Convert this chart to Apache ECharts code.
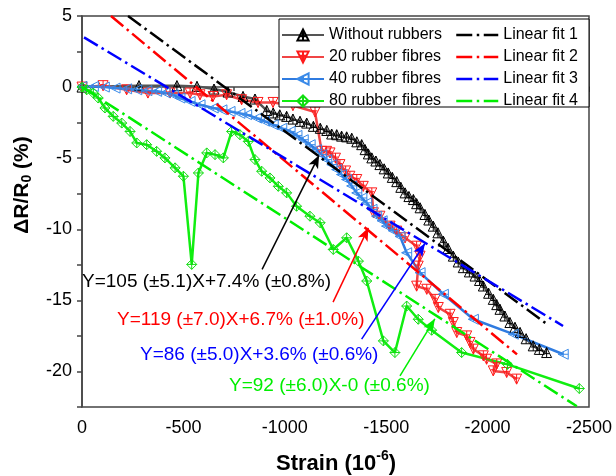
<!DOCTYPE html>
<html>
<head>
<meta charset="utf-8">
<script src="https://cdn.jsdelivr.net/npm/echarts/dist/echarts.min.js"></script>
<style>
  html, body { margin: 0; padding: 0; background: #fff; }
  #chart { width: 616px; height: 476px; }
</style>
</head>
<body>
<div id="chart"></div>
<script>
// strain in 10^-6, dR/R0 in %
var strain0 = [0, -281, -468, -567, -651, -720, -794, -853, -911, -943, -975, -1009, -1040, -1075, -1108, -1141, -1175, -1207, -1231, -1256, -1280, -1305, -1330, -1355, -1379, -1396, -1412, -1429, -1449, -1469, -1490, -1510, -1530, -1552, -1572, -1593, -1612, -1634, -1650, -1667, -1691, -1710, -1732, -1755, -1782, -1805, -1831, -1855, -1880, -1910, -1938, -1960, -1979, -2005, -2028, -2045, -2061, -2085, -2110, -2135, -2160, -2190, -2225, -2255, -2291];
var dr0 = [0, 0.1, 0.1, 0.05, -0.14, -0.35, -0.66, -0.84, -1.65, -1.82, -1.95, -2.06, -2.25, -2.41, -2.53, -2.76, -2.9, -3.05, -3.3, -3.35, -3.45, -3.5, -3.6, -3.85, -4.05, -4.4, -4.7, -4.98, -5.2, -5.45, -5.75, -6.04, -6.35, -6.65, -7.05, -7.44, -7.7, -7.91, -8.2, -8.49, -8.96, -9.35, -9.78, -10.25, -10.84, -11.35, -11.89, -12.3, -12.7, -13.0, -13.29, -13.6, -13.99, -14.5, -14.93, -15.3, -15.63, -16.1, -16.56, -16.9, -17.26, -17.7, -18.2, -18.45, -18.67];

var strain20 = [0, -104, -220, -325, -434, -533, -582, -646, -713, -787, -868, -942, -1040, -1149, -1182, -1206, -1223, -1250, -1272, -1300, -1321, -1355, -1387, -1429, -1437, -1469, -1519, -1552, -1593, -1650, -1667, -1658, -1650, -1700, -1741, -1757, -1815, -1831, -1848, -1897, -1913, -1930, -1979, -1995, -2045, -2028, -2094, -2143];
var dr20 = [0, 0.1, -0.19, -0.42, -0.42, -0.42, -0.54, -0.66, -0.54, -0.89, -1.08, -1.08, -1.3, -1.75, -4.52, -4.52, -4.63, -5.0, -5.45, -5.9, -6.27, -6.5, -6.98, -7.44, -8.84, -9.08, -9.78, -10.13, -10.6, -11.19, -11.89, -12.59, -14.0, -14.22, -14.93, -15.5, -15.98, -16.56, -17.26, -17.5, -17.96, -18.43, -18.9, -19.14, -19.47, -19.96, -20.07, -20.54];

var strain40 = [0, -56, -110, -163, -220, -270, -320, -368, -410, -450, -483, -533, -582, -647, -690, -730, -779, -812, -861, -900, -943, -985, -1026, -1060, -1091, -1125, -1157, -1182, -1207, -1232, -1256, -1280, -1305, -1330, -1355, -1380, -1404, -1430, -1453, -1480, -1502, -1535, -1568, -1601, -1667, -1782, -1930, -2127, -2373];
var dr40 = [0.05, 0.04, 0, -0.07, -0.12, -0.19, -0.25, -0.3, -0.4, -0.54, -0.77, -1.01, -1.24, -1.47, -1.6, -1.71, -1.85, -1.94, -2.18, -2.4, -2.65, -2.9, -3.12, -3.4, -3.7, -4.05, -4.4, -4.75, -5.1, -5.45, -5.8, -6.15, -6.5, -6.95, -7.44, -7.8, -8.14, -8.6, -9.08, -9.4, -9.78, -10.1, -10.5, -11.65, -13.05, -14.57, -16.33, -17.38, -18.79];

var strain80 = [0, -23, -56, -80, -113, -154, -196, -237, -270, -319, -368, -409, -459, -500, -541, -574, -615, -656, -697, -738, -779, -820, -853, -886, -927, -968, -1009, -1058, -1124, -1174, -1239, -1305, -1363, -1404, -1486, -1543, -1601, -1658, -1724, -1872, -2098, -2452];
var dr80 = [0, -0.19, -0.42, -0.77, -1.47, -2.06, -2.53, -3.12, -3.93, -4.05, -4.52, -4.98, -5.68, -6.27, -12.47, -6.04, -4.63, -4.75, -4.98, -3.12, -3.35, -3.82, -5.1, -5.92, -6.39, -6.98, -7.44, -8.38, -9.08, -9.54, -11.42, -10.6, -12.24, -13.64, -17.85, -18.67, -15.4, -16.33, -17.1, -18.67, -19.5, -21.2];

// linear fit end points [start, end]
var fitStrain1 = [-227, -2293], fitDr1 = [5, -16.67];
var fitStrain2 = [-143, -2145], fitDr2 = [5, -18.8];
var fitStrain3 = [-10, -2372], fitDr3 = [3.5, -16.8];
var fitStrain4 = [0, -2440], fitDr4 = [0, -22.45];

// annotation arrows: [from, to] in data coords
var arrow1 = [[-888, -12.82], [-1169, -4.8]];
var arrow2 = [[-1238, -15.12], [-1412, -9.9]];
var arrow3 = [[-1379, -17.73], [-1691, -11.0]];
var arrow4 = [[-1568, -20.31], [-1740, -16.3]];

var xTicks = [0, -500, -1000, -1500, -2000, -2500];
var yTicks = [5, 0, -5, -10, -15, -20];

var FONT = 'Liberation Sans, Arial, sans-serif';
var DASH_DOT = [16, 4.5, 2.5, 4.5];

function zip(xs, ys) {
  return xs.map(function (x, i) { return [x, ys[i]]; });
}

var triUp = 'path://M0,-10L10,8L-10,8ZM0,-10L0,8M-5,1L5,1';
var triDown = 'path://M-10,-8L10,-8L0,10ZM0,-8L0,10M-5,-1L5,-1';
var triLeft = 'path://M-10,0L8,-10L8,10ZM-10,0L8,0M-1,-5L-1,5';
var diamond = 'path://M0,-10L10,0L0,10L-10,0ZM0,-10L0,10M-10,0L10,0';

function dataSeries(name, xs, ys, lineColor, markColor, symbol) {
  return {
    name: name,
    type: 'line',
    data: zip(xs, ys),
    symbol: symbol,
    symbolSize: 10,
    showAllSymbol: true,
    lineStyle: { color: lineColor, width: 2.5 },
    itemStyle: { color: 'rgba(255,255,255,0)', borderColor: markColor, borderWidth: 1 },
    z: 2
  };
}

function fitSeries(name, xs, ys, color, arrow) {
  return {
    name: name,
    type: 'line',
    data: zip(xs, ys),
    symbol: 'none',
    lineStyle: { color: color, width: 2.5, type: DASH_DOT },
    itemStyle: { color: color },
    z: 3,
    markLine: {
      silent: true,
      symbol: ['none', 'arrow'],
      symbolSize: [8, 13],
      label: { show: false },
      lineStyle: { color: color, width: 1.5, type: 'solid' },
      data: [[{ coord: arrow[0] }, { coord: arrow[1] }]]
    }
  };
}

function fitLegendItem(name) {
  return { name: name, itemStyle: { opacity: 0 }, lineStyle: { type: DASH_DOT, width: 2.5 } };
}

var chart = echarts.init(document.getElementById('chart'));

chart.setOption({
  animation: false,
  grid: {
    left: 82, right: 27, top: 16, bottom: 69,
    show: true, borderColor: '#444', borderWidth: 1.5
  },
  xAxis: {
    type: 'value',
    min: -2500, max: 0, interval: 500,
    inverse: true,
    axisLine: { show: true, lineStyle: { color: '#444', width: 1.5 } },
    axisTick: { show: true, length: 5, lineStyle: { color: '#444', width: 1.5 } },
    minorTick: { show: true, splitNumber: 2, length: 4, lineStyle: { color: '#444', width: 1.5 } },
    splitLine: { show: false },
    axisLabel: {
      color: '#000', fontSize: 18, fontFamily: FONT, margin: 12,
      formatter: function (v) { return xTicks.indexOf(v) >= 0 ? String(v) : ''; }
    }
  },
  yAxis: {
    type: 'value',
    min: -22.5, max: 5, interval: 2.5,
    axisLine: { show: true, lineStyle: { color: '#444', width: 1.5 } },
    axisTick: { show: true, length: 5, lineStyle: { color: '#444', width: 1.5 } },
    splitLine: { show: false },
    axisLabel: {
      color: '#000', fontSize: 18, fontFamily: FONT, margin: 10,
      formatter: function (v) { return yTicks.indexOf(v) >= 0 ? String(v) : ''; }
    }
  },
  legend: [
    {
      data: ['Without rubbers', '20 rubber fibres', '40 rubber fibres', '80 rubber fibres'],
      orient: 'vertical', left: 276, top: 22,
      itemWidth: 42, itemHeight: 14, itemGap: 6,
      textStyle: { color: '#000', fontSize: 16, fontFamily: FONT },
      selectedMode: false
    },
    {
      data: ['Linear fit 1', 'Linear fit 2', 'Linear fit 3', 'Linear fit 4'].map(fitLegendItem),
      orient: 'vertical', left: 450, top: 22,
      itemWidth: 42, itemHeight: 14, itemGap: 6,
      textStyle: { color: '#000', fontSize: 16, fontFamily: FONT },
      selectedMode: false
    }
  ],
  graphic: [
    {
      type: 'rect', z: 3,
      shape: { x: 279, y: 19, width: 310, height: 88 },
      style: { fill: '#fff', stroke: '#000', lineWidth: 1 }
    },
    {
      type: 'text', z: 5, x: 82, y: 282,
      style: { text: 'Y=105 (±5.1)X+7.4% (±0.8%)', fill: '#000', font: '19px ' + FONT, verticalAlign: 'middle' }
    },
    {
      type: 'text', z: 5, x: 117, y: 320,
      style: { text: 'Y=119 (±7.0)X+6.7% (±1.0%)', fill: '#ff0000', font: '19px ' + FONT, verticalAlign: 'middle' }
    },
    {
      type: 'text', z: 5, x: 140, y: 355,
      style: { text: 'Y=86 (±5.0)X+3.6% (±0.6%)', fill: '#0000ff', font: '19px ' + FONT, verticalAlign: 'middle' }
    },
    {
      type: 'text', z: 5, x: 229, y: 386,
      style: { text: 'Y=92 (±6.0)X-0 (±0.6%)', fill: '#00ee00', font: '19px ' + FONT, verticalAlign: 'middle' }
    },
    {
      type: 'text', z: 5, x: 336, y: 462,
      style: {
        text: '{a|Strain (10}{p|-6}{a|)}',
        align: 'center', verticalAlign: 'middle',
        rich: {
          a: { fontSize: 22, fontWeight: 'bold', fontFamily: FONT, fill: '#000', lineHeight: 26, verticalAlign: 'bottom' },
          p: { fontSize: 14, fontWeight: 'bold', fontFamily: FONT, fill: '#000', lineHeight: 26, verticalAlign: 'top', padding: [0, 0, 8, 0] }
        }
      }
    },
    {
      type: 'text', z: 5, x: 22, y: 185, rotation: Math.PI / 2,
      style: {
        text: '{a|ΔR/R}{s|0}{a| (%)}',
        align: 'center', verticalAlign: 'middle',
        rich: {
          a: { fontSize: 21, fontWeight: 'bold', fontFamily: FONT, fill: '#000', lineHeight: 26 },
          s: { fontSize: 14, fontWeight: 'bold', fontFamily: FONT, fill: '#000', lineHeight: 26, padding: [10, 0, 0, 0] }
        }
      }
    }
  ],
  series: [
    dataSeries('Without rubbers', strain0, dr0, '#555555', '#000000', triUp),
    dataSeries('20 rubber fibres', strain20, dr20, '#f04545', '#ff1a1a', triDown),
    dataSeries('40 rubber fibres', strain40, dr40, '#2f7be0', '#3a8ae8', triLeft),
    dataSeries('80 rubber fibres', strain80, dr80, '#11ee11', '#11dd11', diamond),
    fitSeries('Linear fit 1', fitStrain1, fitDr1, '#000000', arrow1),
    fitSeries('Linear fit 2', fitStrain2, fitDr2, '#ff0000', arrow2),
    fitSeries('Linear fit 3', fitStrain3, fitDr3, '#0000ff', arrow3),
    fitSeries('Linear fit 4', fitStrain4, fitDr4, '#00ee00', arrow4)
  ]
});
</script>
</body>
</html>
